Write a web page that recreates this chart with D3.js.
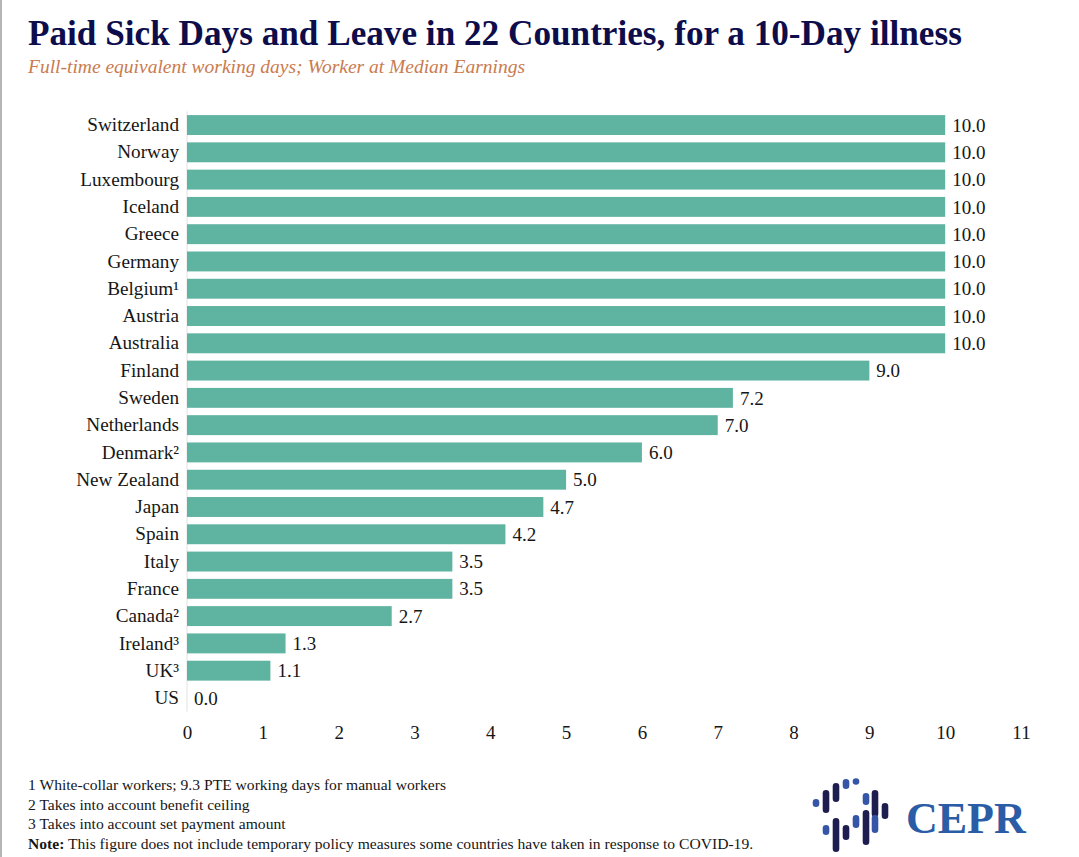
<!DOCTYPE html>
<html>
<head>
<meta charset="utf-8">
<script src="https://cdn.jsdelivr.net/npm/d3@7"></script>
<style>
  body { margin: 0; background: #fff; }
  svg { display: block; font-family: "Liberation Serif", "Times New Roman", serif; }
</style>
</head>
<body>
<div class="graph"></div>
<script>
// Data
const countries = ['Switzerland', 'Norway', 'Luxembourg', 'Iceland', 'Greece', 'Germany', 'Belgium¹',
  'Austria', 'Australia', 'Finland', 'Sweden', 'Netherlands', 'Denmark²', 'New Zealand', 'Japan',
  'Spain', 'Italy', 'France', 'Canada²', 'Ireland³', 'UK³', 'US'];
const days = [10, 10, 10, 10, 10, 10, 10, 10, 10, 9.0, 7.2, 7.0, 6.0, 5.0, 4.7, 4.2, 3.5, 3.5, 2.7, 1.3, 1.1, 0.0];
const xTicks = [0, 1, 2, 3, 4, 5, 6, 7, 8, 9, 10, 11];
const footnotes = [
  '1 White-collar workers; 9.3 PTE working days for manual workers',
  '2 Takes into account benefit ceiling',
  '3 Takes into account set payment amount'
];

const dataset = countries.map((c, i) => ({ country: c, value: days[i] }));

const width = 1079;
const height = 857;
const serif = '"Liberation Serif", "Times New Roman", serif';

const svg = d3.select('.graph')
    .append('svg')
    .attr('width', width)
    .attr('height', height);

// left edge line of the original image
svg.append('line')
    .attr('x1', 1).attr('x2', 1)
    .attr('y1', 0).attr('y2', height)
    .attr('stroke', '#b5b5b5')
    .attr('stroke-width', 2);

// Title + subtitle
svg.append('text')
    .attr('x', 28)
    .attr('y', 45)
    .attr('font-size', 35.2)
    .attr('font-weight', 'bold')
    .attr('fill', '#0e0d4c')
    .text('Paid Sick Days and Leave in 22 Countries, for a 10-Day illness');

svg.append('text')
    .attr('x', 28)
    .attr('y', 73)
    .attr('font-size', 19.5)
    .attr('font-style', 'italic')
    .attr('fill', '#c97b4f')
    .text('Full-time equivalent working days; Worker at Median Earnings');

// Scales
const xScale = d3.scaleLinear()
    .domain([0, 11])
    .range([187, 1021]);

const yScale = d3.scaleBand()
    .domain(countries)
    .range([111.4, 711.6])
    .paddingInner(0.27)
    .paddingOuter(0.135);

// faint baseline
svg.append('line')
    .attr('x1', xScale(0)).attr('x2', xScale(0))
    .attr('y1', yScale.range()[0]).attr('y2', yScale.range()[1])
    .attr('stroke', '#e2e2e2')
    .attr('stroke-width', 1);

// Bars
svg.selectAll('.bar')
    .data(dataset)
    .enter()
    .append('rect')
    .attr('class', 'bar')
    .attr('x', xScale(0))
    .attr('y', d => yScale(d.country))
    .attr('width', d => xScale(d.value) - xScale(0))
    .attr('height', yScale.bandwidth())
    .attr('fill', '#5fb3a1');

// Value labels
svg.selectAll('.value')
    .data(dataset)
    .enter()
    .append('text')
    .attr('class', 'value')
    .attr('x', d => xScale(d.value) + 7)
    .attr('y', d => yScale(d.country) + yScale.bandwidth() / 2)
    .attr('dy', '0.35em')
    .attr('font-size', 19)
    .attr('fill', '#161616')
    .text(d => d3.format('.1f')(d.value));

// Country axis
const yAxis = svg.append('g')
    .attr('transform', `translate(${xScale(0) - 8},0)`)
    .call(d3.axisLeft(yScale).tickSize(0).tickPadding(0));
yAxis.select('.domain').remove();
yAxis.selectAll('text')
    .attr('font-family', serif)
    .attr('font-size', 19.2)
    .attr('fill', '#161616');

// Value axis
const xAxis = svg.append('g')
    .attr('transform', 'translate(0,725)')
    .call(d3.axisBottom(xScale).tickValues(xTicks).tickSize(0).tickPadding(0));
xAxis.select('.domain').remove();
xAxis.selectAll('text')
    .attr('font-family', serif)
    .attr('font-size', 19)
    .attr('fill', '#161616');

// Footnotes
svg.selectAll('.foot')
    .data(footnotes)
    .enter()
    .append('text')
    .attr('class', 'foot')
    .attr('x', 28)
    .attr('y', (d, i) => 790 + i * 19.5)
    .attr('font-size', 15.6)
    .attr('fill', '#161616')
    .text(d => d);

const note = svg.append('text')
    .attr('x', 28)
    .attr('y', 848.5)
    .attr('font-size', 15.6)
    .attr('fill', '#161616');
note.append('tspan').attr('font-weight', 'bold').text('Note:');
note.append('tspan').text(' This figure does not include temporary policy measures some countries have taken in response to COVID-19.');

// CEPR logo
const logoPills = [
  // [x, top, bottom, colour]
  [816, 799, 807, '#3556a6'],
  [826, 790, 813, '#1d1d4f'],
  [836, 783, 802, '#1d1d4f'],
  [846, 779, 789, '#3556a6'],
  [856, 779, 784, '#3556a6'],
  [866, 793, 805, '#3556a6'],
  [875, 790, 817, '#1d1d4f'],
  [885, 803, 819, '#1d1d4f'],
  [826, 825, 835, '#3556a6'],
  [836, 818, 852, '#1d1d4f'],
  [846, 825, 840, '#1d1d4f'],
  [856, 815, 828, '#3556a6'],
  [866, 810, 845, '#1d1d4f'],
  [875, 815, 833, '#3556a6']
];
svg.append('g')
    .selectAll('line')
    .data(logoPills)
    .enter()
    .append('line')
    .attr('x1', d => d[0]).attr('x2', d => d[0])
    .attr('y1', d => Math.min(d[1] + 3.3, (d[1] + d[2]) / 2))
    .attr('y2', d => Math.max(d[2] - 3.3, (d[1] + d[2]) / 2))
    .attr('stroke', d => d[3])
    .attr('stroke-width', 6.6)
    .attr('stroke-linecap', 'round');

svg.append('text')
    .attr('x', 906)
    .attr('y', 833)
    .attr('font-size', 44)
    .attr('font-weight', 'bold')
    .attr('fill', '#2b5ca6')
    .text('CEPR');
</script>
</body>
</html>
